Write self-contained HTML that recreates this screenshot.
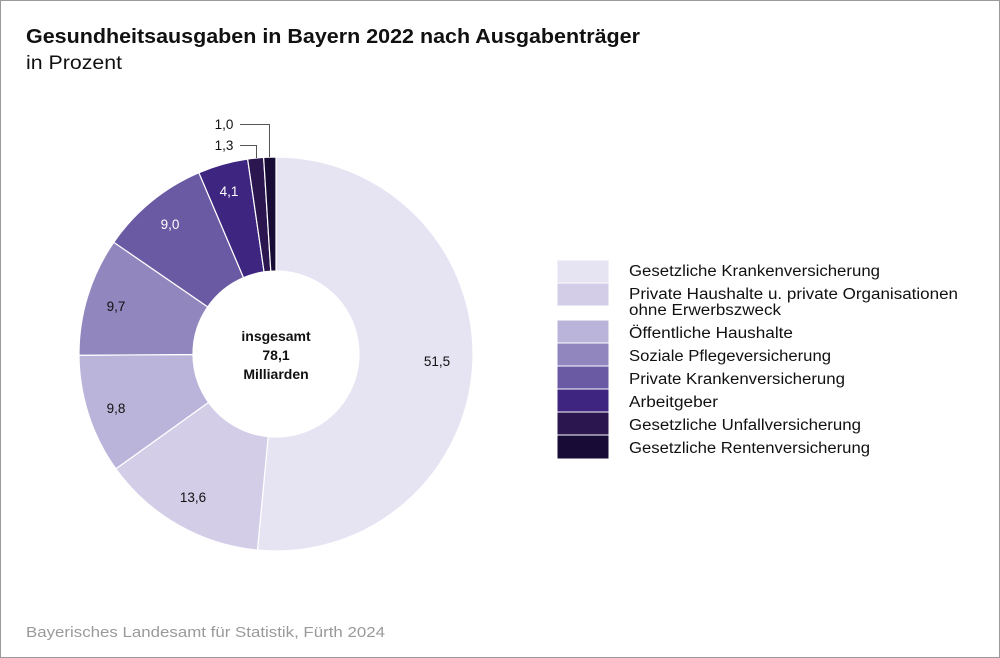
<!DOCTYPE html>
<html><head><meta charset="utf-8"><style>
html,body{margin:0;padding:0;background:#fff}
svg{display:block;font-family:"Liberation Sans",Arial,sans-serif}
</style></head><body>
<svg id="s" width="1000" height="658" viewBox="0 0 1000 658">
<rect x="0.5" y="0.5" width="999" height="657" fill="#fff" stroke="#9a9a9a"/>
<text x="26" y="43" font-size="20" font-weight="bold" fill="#111" textLength="614" lengthAdjust="spacingAndGlyphs">Gesundheitsausgaben in Bayern 2022 nach Ausgabenträger</text>
<text x="26" y="69" font-size="19" fill="#111" textLength="96" lengthAdjust="spacingAndGlyphs">in Prozent</text>
<g id="pie"></g>
<g font-size="13.5" fill="#111" text-anchor="middle">
<text x="437" y="366">51,5</text>
<text x="193" y="502">13,6</text>
<text x="116" y="413">9,8</text>
<text x="116" y="311">9,7</text>
<text x="170" y="229" fill="#fff">9,0</text>
<text x="229" y="196" fill="#fff">4,1</text>
<text x="224" y="129">1,0</text>
<text x="224" y="150">1,3</text>
</g>
<g fill="none" stroke="#555" stroke-width="1">
<polyline points="240,124.5 269.5,124.5 269.5,157"/>
<polyline points="240,145.5 256.5,145.5 256.5,158"/>
</g>
<g font-size="14" font-weight="bold" fill="#111" text-anchor="middle">
<text x="276" y="341">insgesamt</text>
<text x="276" y="360">78,1</text>
<text x="276" y="379">Milliarden</text>
</g>
<g stroke="#fff" stroke-width="1">
<rect x="557" y="260" width="52" height="23" fill="#e6e3f3"/>
<rect x="557" y="283" width="52" height="23" fill="#d3cde7"/>
<rect x="557" y="320" width="52" height="23" fill="#bbb4da"/>
<rect x="557" y="343" width="52" height="23" fill="#9186bd"/>
<rect x="557" y="366" width="52" height="23" fill="#6a5aa3"/>
<rect x="557" y="389" width="52" height="23" fill="#3e2580"/>
<rect x="557" y="412" width="52" height="23" fill="#2c1650"/>
<rect x="557" y="435" width="52" height="24" fill="#180c36"/>
</g>
<g font-size="15.5" fill="#111" lengthAdjust="spacingAndGlyphs">
<text x="629" y="276" textLength="251" lengthAdjust="spacingAndGlyphs">Gesetzliche Krankenversicherung</text>
<text x="629" y="299" textLength="329" lengthAdjust="spacingAndGlyphs">Private Haushalte u. private Organisationen</text>
<text x="629" y="315" textLength="152" lengthAdjust="spacingAndGlyphs">ohne Erwerbszweck</text>
<text x="629" y="338" textLength="164" lengthAdjust="spacingAndGlyphs">Öffentliche Haushalte</text>
<text x="629" y="361" textLength="202" lengthAdjust="spacingAndGlyphs">Soziale Pflegeversicherung</text>
<text x="629" y="384" textLength="216" lengthAdjust="spacingAndGlyphs">Private Krankenversicherung</text>
<text x="629" y="407" textLength="89" lengthAdjust="spacingAndGlyphs">Arbeitgeber</text>
<text x="629" y="430" textLength="232" lengthAdjust="spacingAndGlyphs">Gesetzliche Unfallversicherung</text>
<text x="629" y="453" textLength="241" lengthAdjust="spacingAndGlyphs">Gesetzliche Rentenversicherung</text>
</g>
<text x="26" y="637" font-size="15" fill="#9a9a9a" textLength="359" lengthAdjust="spacingAndGlyphs">Bayerisches Landesamt für Statistik, Fürth 2024</text>
</svg>
<script>
var v=[51.5,13.6,9.8,9.7,9.0,4.1,1.3,1.0];
var c=["#e6e3f3","#d3cde7","#bbb4da","#9186bd","#6a5aa3","#3e2580","#2c1650","#180c36"];
var cx=276,cy=354,R=197,r=83,a=0,h="";
function p(rad,ang){return [cx+rad*Math.sin(ang),cy-rad*Math.cos(ang)];}
for(var i=0;i<v.length;i++){
 var a0=a/100*2*Math.PI;a+=v[i];var a1=a/100*2*Math.PI;
 var lg=(a1-a0)>Math.PI?1:0;
 var o0=p(R,a0),o1=p(R,a1),i1=p(r,a1),i0=p(r,a0);
 h+='<path d="M'+o0+' A'+R+','+R+' 0 '+lg+' 1 '+o1+' L'+i1+' A'+r+','+r+' 0 '+lg+' 0 '+i0+' Z" fill="'+c[i]+'" stroke="#fff" stroke-width="1.2"/>';
}
document.getElementById("pie").innerHTML=h;
</script>
</body></html>
